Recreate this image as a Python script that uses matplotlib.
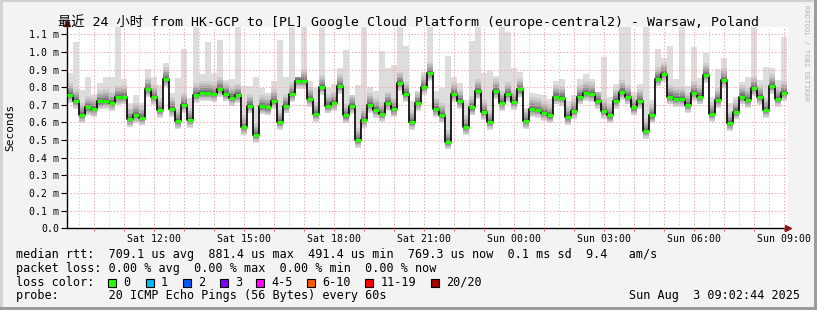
import numpy as np
import matplotlib.pyplot as plt
from matplotlib.patches import Rectangle
from matplotlib.ticker import FuncFormatter, MultipleLocator

# median rtt per 12-minute step (ms), Sat 09:05 -> Sun 09:05
median_ms = [
    0.757, 0.723, 0.643, 0.685, 0.677, 0.719, 0.723, 0.710, 0.743, 0.747,
    0.619, 0.643, 0.628, 0.789, 0.745, 0.672, 0.847, 0.677, 0.609, 0.700,
    0.615, 0.757, 0.768, 0.768, 0.762, 0.792, 0.764, 0.741, 0.755, 0.575,
    0.696, 0.530, 0.691, 0.685, 0.723, 0.604, 0.696, 0.762, 0.836, 0.836,
    0.734, 0.649, 0.802, 0.696, 0.710, 0.808, 0.640, 0.694, 0.502, 0.615,
    0.700, 0.672, 0.649, 0.710, 0.675, 0.823, 0.762, 0.604, 0.710, 0.802,
    0.879, 0.675, 0.643, 0.492, 0.762, 0.721, 0.575, 0.685, 0.779, 0.660,
    0.604, 0.779, 0.711, 0.762, 0.717, 0.787, 0.609, 0.677, 0.672, 0.655,
    0.640, 0.747, 0.741, 0.630, 0.666, 0.747, 0.768, 0.762, 0.723, 0.666,
    0.640, 0.723, 0.775, 0.747, 0.685, 0.723, 0.553, 0.640, 0.849, 0.875,
    0.747, 0.734, 0.734, 0.700, 0.768, 0.747, 0.870, 0.649, 0.728, 0.842,
    0.596, 0.662, 0.747, 0.728, 0.794, 0.745, 0.672, 0.809, 0.734, 0.768,
]
# slowest ping per step (ms)
max_ms = [
    0.883, 1.058, 0.785, 0.855, 0.762, 0.823, 0.855, 0.860, 1.150, 0.847,
    0.710, 0.757, 0.710, 0.902, 0.855, 0.813, 0.940, 0.766, 0.851, 1.015,
    0.740, 1.150, 0.874, 1.058, 0.879, 1.068, 0.842, 0.847, 1.150, 0.804,
    0.804, 0.860, 0.794, 0.766, 0.836, 1.068, 0.860, 1.150, 0.860, 1.140,
    0.836, 0.798, 1.140, 0.794, 0.817, 0.907, 1.010, 0.757, 0.813, 1.140,
    0.802, 0.779, 1.006, 0.911, 0.926, 1.140, 1.034, 0.723, 0.779, 0.888,
    1.150, 0.779, 0.794, 0.977, 0.860, 0.826, 0.728, 1.062, 1.140, 0.883,
    0.892, 0.864, 1.140, 1.115, 0.911, 0.888, 0.681, 0.766, 0.760, 0.753,
    0.734, 0.836, 0.847, 0.723, 0.757, 0.845, 0.875, 0.847, 0.775, 0.974,
    0.747, 0.819, 1.140, 1.140, 0.775, 0.817, 1.140, 0.728, 1.015, 0.964,
    1.036, 0.847, 1.140, 0.804, 1.030, 0.851, 0.996, 0.747, 0.902, 0.964,
    0.710, 0.742, 0.832, 0.855, 1.140, 0.842, 0.917, 0.911, 0.842, 1.087,
]
hour_labels = {3: 'Sat 12:00', 6: 'Sat 15:00', 9: 'Sat 18:00', 12: 'Sat 21:00',
               15: 'Sun 00:00', 18: 'Sun 03:00', 21: 'Sun 06:00', 24: 'Sun 09:00'}
loss_labels = ['0', '1', '2', '3', '4-5', '6-10', '11-19', '20/20']
loss_colors = ['#26ff00', '#00b8ff', '#0059ff', '#7e00ff', '#ff00ff',
               '#ff5500', '#ff0000', '#a10000']

W, H = 817, 310
MONO = ['DejaVu Sans Mono', 'Noto Sans CJK SC']

fig = plt.figure(figsize=(W / 100, H / 100), dpi=100, facecolor='#f3f3f3')
ax = fig.add_axes([67 / W, (H - 228.3) / H, (788 - 67) / W, (228.3 - 26.7) / H])
ax.set_facecolor('white')

med = np.array(median_ms)
top = np.array(max_ms)
step = 0.2  # hours
edges = 0.09 + step * np.arange(len(med) + 1)
left = edges[:-1]

# smoke: light spread, then darker layers hugging the median
base = med - 0.045
ax.bar(left, top - base, bottom=base, width=step, align='edge', color='#dddddd', lw=0, zorder=1)
above = [0.065, 0.05, 0.037, 0.027, 0.018, 0.010, 0.004]
below = [0.040, 0.032, 0.025, 0.018, 0.012, 0.007, 0.003]
greys = ['#cdcdcd', '#bababa', '#a6a6a6', '#939393', '#7f7f7f', '#6a6a6a', '#555555']
for a, b, c in zip(above, below, greys):
    hi = np.minimum(med + a, top)
    ax.bar(left, hi - (med - b), bottom=med - b, width=step, align='edge', color=c, lw=0, zorder=1)

ax.step(edges, np.r_[med, med[-1]], where='post', color='black', lw=1.2, zorder=3)
ax.hlines(med, edges[:-1], edges[1:], colors=loss_colors[0], lw=2.3, zorder=4)

ax.set_xlim(0.09, 24.12)
ax.set_ylim(0, 1.143)

ax.xaxis.set_major_locator(MultipleLocator(1))
ax.xaxis.set_minor_locator(MultipleLocator(0.5))
ax.xaxis.set_major_formatter(FuncFormatter(lambda v, p: hour_labels.get(int(round(v)), '') if abs(v - round(v)) < 1e-6 else ''))
ax.yaxis.set_major_locator(MultipleLocator(0.1))
ax.yaxis.set_major_formatter(FuncFormatter(lambda v, p: '0.0' if abs(v) < 1e-9 else f'{v:.1f} m'))

ax.grid(True, which='major', color='#f4a6a6', lw=0.7, linestyle=(0, (1.4, 2.0)))
ax.grid(True, which='minor', axis='x', color='#cfcfcf', lw=0.7, linestyle=(0, (1.4, 2.0)))
ax.set_axisbelow(False)

ax.tick_params(axis='x', which='major', direction='out', length=2, width=0.7, color='#e06a6a',
               labelsize=7.1, pad=2)
ax.tick_params(axis='x', which='minor', length=0)
ax.tick_params(axis='y', direction='out', length=4, width=0.8, color='black', labelsize=7.1, pad=1.5)
for lab in ax.get_xticklabels() + ax.get_yticklabels():
    lab.set_family('DejaVu Sans Mono')

for s in ['top', 'right']:
    ax.spines[s].set_visible(False)
for s in ['left', 'bottom']:
    ax.spines[s].set_color('black')
    ax.spines[s].set_linewidth(1.0)

ax.set_ylabel('Seconds', fontsize=8, family='DejaVu Sans Mono')
ax.yaxis.set_label_coords(-52 / 721, 0.5)

# axis arrows
ax.plot([0], [1.02], marker='^', ms=4, color='#8b1a1a', clip_on=False, transform=ax.transAxes, zorder=5)
ax.plot([1.0], [0], marker='>', ms=4, color='#8b1a1a', clip_on=False, transform=ax.transAxes, zorder=5)


def fx(px):
    return px / W


def fy(py):
    return 1 - py / H


fig.text(fx(408.5), fy(21.5), '最近 24 小时 from HK-GCP to [PL] Google Cloud Platform (europe-central2) - Warsaw, Poland',
         ha='center', va='center', fontsize=9.5, family=MONO)
fig.text(fx(806), fy(5), 'RRDTOOL / TOBI OETIKER', rotation=270, ha='center', va='top',
         fontsize=5.2, color='#b4b4b4', family='DejaVu Sans Mono')

LEG = 8.5
rows = [
    (254.3, 'median rtt:  709.1 us avg  881.4 us max  491.4 us min  769.3 us now  0.1 ms sd  9.4   am/s'),
    (268.3, 'packet loss: 0.00 % avg  0.00 % max  0.00 % min  0.00 % now'),
    (282.3, 'loss color:'),
    (296.0, 'probe:       20 ICMP Echo Pings (56 Bytes) every 60s'),
]
for y, txt in rows:
    fig.text(fx(16), fy(y), txt, ha='left', va='center', fontsize=LEG, family='DejaVu Sans Mono')

box_x = [108.3, 145.7, 182.7, 219.7, 256.3, 307.3, 365.3, 430.7]
for bx, lab, col in zip(box_x, loss_labels, loss_colors):
    fig.patches.append(Rectangle((fx(bx), fy(286.5)), 8 / W, 8 / H, transform=fig.transFigure,
                                 facecolor=col, edgecolor='black', lw=0.8))
    fig.text(fx(bx + 15), fy(282.3), lab, ha='left', va='center', fontsize=LEG, family='DejaVu Sans Mono')

fig.text(fx(800), fy(296.0), 'Sun Aug  3 09:02:44 2025', ha='right', va='center',
         fontsize=LEG, family='DejaVu Sans Mono')

# image frame
fig.patches.append(Rectangle((0, 0), 1, 1, transform=fig.transFigure, fill=False,
                             edgecolor='#cfcfcf', lw=3))
fig.patches.append(Rectangle((0, 0), 3 / W, 1, transform=fig.transFigure, color='#d4d4d4', lw=0))
fig.patches.append(Rectangle((0, 0), 1, 3 / H, transform=fig.transFigure, color='#9c9c9c', lw=0))
fig.patches.append(Rectangle((1 - 3 / W, 0), 3 / W, 1, transform=fig.transFigure, color='#9c9c9c', lw=0))

fig.savefig('out.png', dpi=100, facecolor=fig.get_facecolor())
